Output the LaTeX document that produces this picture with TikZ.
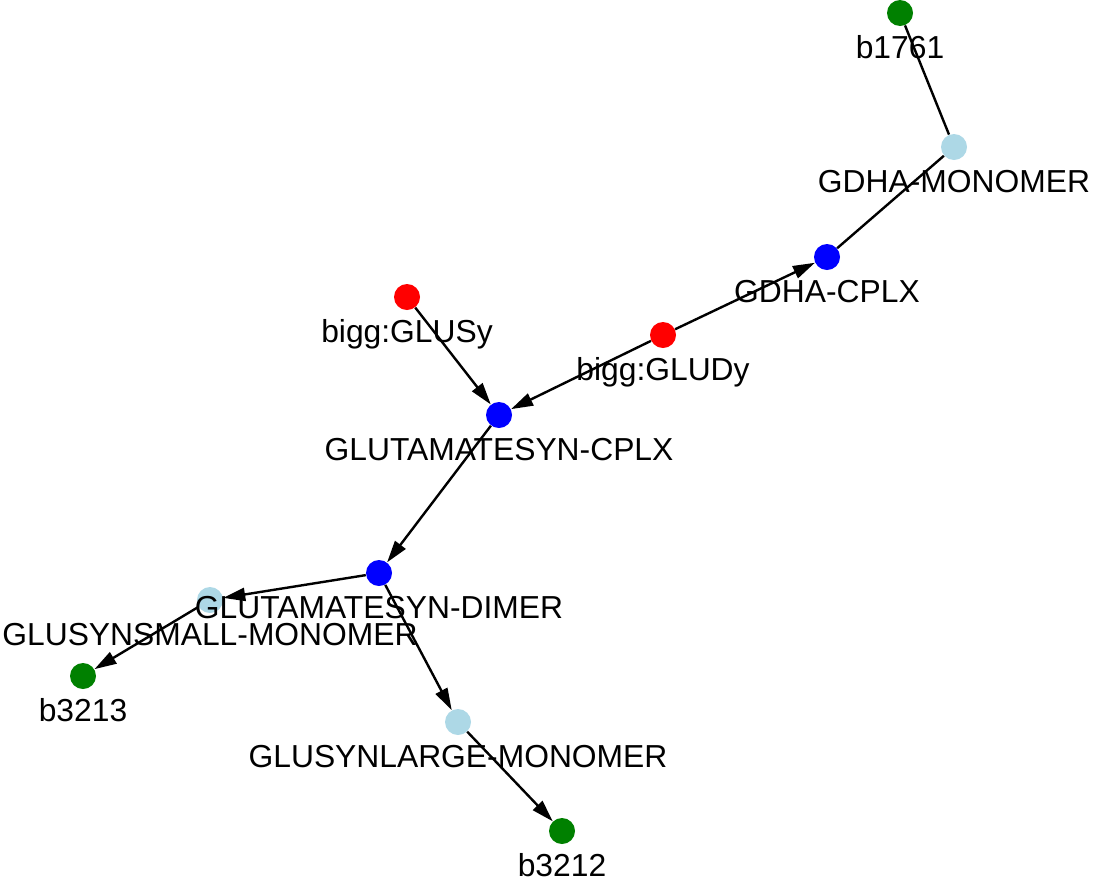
\documentclass[tikz,border=0pt]{standalone}
\usepackage{fontspec}
\setmainfont{Liberation Sans}
\usepackage{xcolor}
\usetikzlibrary{arrows,arrows.meta,shapes,backgrounds}

\definecolor{gene}{RGB}{0,128,0}
\definecolor{mono}{RGB}{173,216,230}
\definecolor{cplx}{RGB}{0,0,255}
\definecolor{rxn}{RGB}{255,0,0}

\newcommand{\Vtx}[5]{\node[vertex=#4,label={[lbl]below:{#5}}] (#1) at (#2,#3) {};}

\begin{document}
\begin{tikzpicture}[x=0.5pt,y=-0.5pt,
    vertex/.style={circle,minimum size=13pt,inner sep=0pt,fill=#1},
    lbl/.style={font=\fontsize{15.9}{19}\selectfont,text height=11.4pt,
      text depth=3.3pt,inner sep=0pt,label distance=4.6pt},
    edge/.style={line width=1.2pt,black},
    dir/.style={edge,-{Triangle[length=11pt,width=6.5pt]}}]
  \useasboundingbox (0,0) rectangle (1095,879);
  %\SetGraphUnit{...}
  \Vtx{b1761}{900}{13}{gene}{b1761}
  \Vtx{gdhamono}{954}{147}{mono}{GDHA-MONOMER}
  \Vtx{gdhacplx}{827}{257}{cplx}{GDHA-CPLX}
  \Vtx{gludy}{663}{335}{rxn}{bigg:GLUDy}
  \Vtx{glusy}{407}{297}{rxn}{bigg:GLUSy}
  \Vtx{glutcplx}{499}{415}{cplx}{GLUTAMATESYN-CPLX}
  \Vtx{smallmono}{210}{600}{mono}{GLUSYNSMALL-MONOMER}
  \Vtx{glutdimer}{379}{573}{cplx}{GLUTAMATESYN-DIMER}
  \Vtx{b3213}{83}{676}{gene}{b3213}
  \Vtx{largemono}{458}{722}{mono}{GLUSYNLARGE-MONOMER}
  \Vtx{b3212}{562}{831}{gene}{b3212}
  \begin{pgfonlayer}{background}
    \draw[edge] (b1761) -- (gdhamono);
    \draw[edge] (gdhamono) -- (gdhacplx);
    \draw[dir] (gludy) -- (gdhacplx);
    \draw[dir] (gludy) -- (glutcplx);
    \draw[dir] (glusy) -- (glutcplx);
    \draw[dir] (glutcplx) -- (glutdimer);
    \draw[dir] (glutdimer) -- (smallmono);
    \draw[dir] (glutdimer) -- (largemono);
    \draw[dir] (smallmono) -- (b3213);
    \draw[dir] (largemono) -- (b3212);
  \end{pgfonlayer}
\end{tikzpicture}
\end{document}
